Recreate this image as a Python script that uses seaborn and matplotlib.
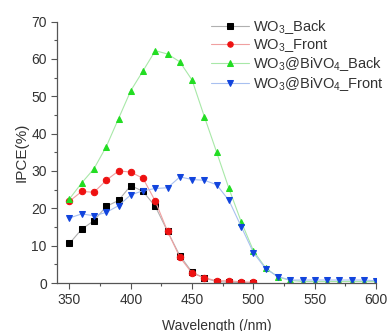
import matplotlib
matplotlib.use("Agg")
import matplotlib.pyplot as plt
import seaborn as sns
from matplotlib.ticker import MultipleLocator

# Wavelength grid (nm)
wl = list(range(350, 610, 10))

# IPCE (%)
wo3_back = [10.6, 14.4, 16.7, 20.5, 22.1, 26.1, 24.5, 20.5, 13.8, 7.3, 2.9,
            1.3, 0.4, 0.2, 0.1, 0.0]
wo3_front = [21.9, 24.5, 24.3, 27.5, 30.0, 29.7, 28.0, 21.9, 13.8, 6.9, 2.6,
             1.4, 0.6, 0.6, 0.3, 0.2]
bivo4_back = [22.5, 26.8, 30.6, 36.5, 44.0, 51.5, 56.8, 62.2, 61.3, 59.2, 54.3,
              44.5, 35.0, 25.3, 16.4, 8.6, 4.0, 1.6, 0.7, 0.4, 0.4, 0.4, 0.4,
              0.4, 0.4, 0.4]
bivo4_front = [17.4, 18.5, 18.0, 18.9, 20.7, 23.6, 24.7, 25.3, 25.5, 28.4, 27.7,
               27.5, 26.3, 22.1, 15.1, 8.1, 3.8, 1.7, 0.8, 0.8, 0.8, 0.8, 0.8,
               0.8, 0.8, 0.6]

sns.set_theme(style="ticks")
plt.rcParams['font.family'] = ['Liberation Sans', 'DejaVu Sans']
plt.rcParams['mathtext.default'] = 'regular'
plt.rcParams['font.size'] = 9

fig = plt.figure(figsize=(3.89, 3.31), dpi=100)
ax = fig.add_axes([0.147, 0.145, 0.82, 0.79])

series = [
    (wo3_back, 'WO$_3$_Back', '#b0b0b0', 'black', 's'),
    (wo3_front, 'WO$_3$_Front', '#f0a0a0', '#ee1111', 'o'),
    (bivo4_back, 'WO$_3$@BiVO$_4$_Back', '#a8e8a8', '#22dd22', '^'),
    (bivo4_front, 'WO$_3$@BiVO$_4$_Front', '#a8c0f0', '#1144dd', 'v'),
]

for vals, label, lc, mc, mk in series:
    sns.lineplot(x=wl[:len(vals)], y=vals, ax=ax, label=label, color=lc,
                 linewidth=0.8, marker=mk, markersize=4.6,
                 markerfacecolor=mc, markeredgecolor=mc)

ax.set_xlim(340, 600)
ax.set_ylim(0, 70)
ax.xaxis.set_major_locator(MultipleLocator(50))
ax.xaxis.set_minor_locator(MultipleLocator(25))
ax.yaxis.set_major_locator(MultipleLocator(10))
ax.yaxis.set_minor_locator(MultipleLocator(5))
ax.tick_params(which='both', direction='out', color='#555555', labelcolor='#333333',
               labelsize=10)
ax.tick_params(which='major', length=4, width=0.8)
ax.tick_params(which='minor', length=2.5, width=0.8)
for side in ['left', 'bottom']:
    ax.spines[side].set_color('#555555')
    ax.spines[side].set_linewidth(0.9)
sns.despine(ax=ax)

ax.set_xlabel('Wavelength (/nm)', fontsize=10, color='#333333', labelpad=8)
ax.set_ylabel('IPCE(%)', fontsize=11, color='#333333', labelpad=2)

ax.legend(loc='upper right', bbox_to_anchor=(1.065, 1.065), frameon=False,
          fontsize=10.5, handlelength=2.6, handletextpad=0.3, labelspacing=0.1,
          markerscale=0.85, labelcolor='#333333')

fig.savefig('out.png', dpi=100)
